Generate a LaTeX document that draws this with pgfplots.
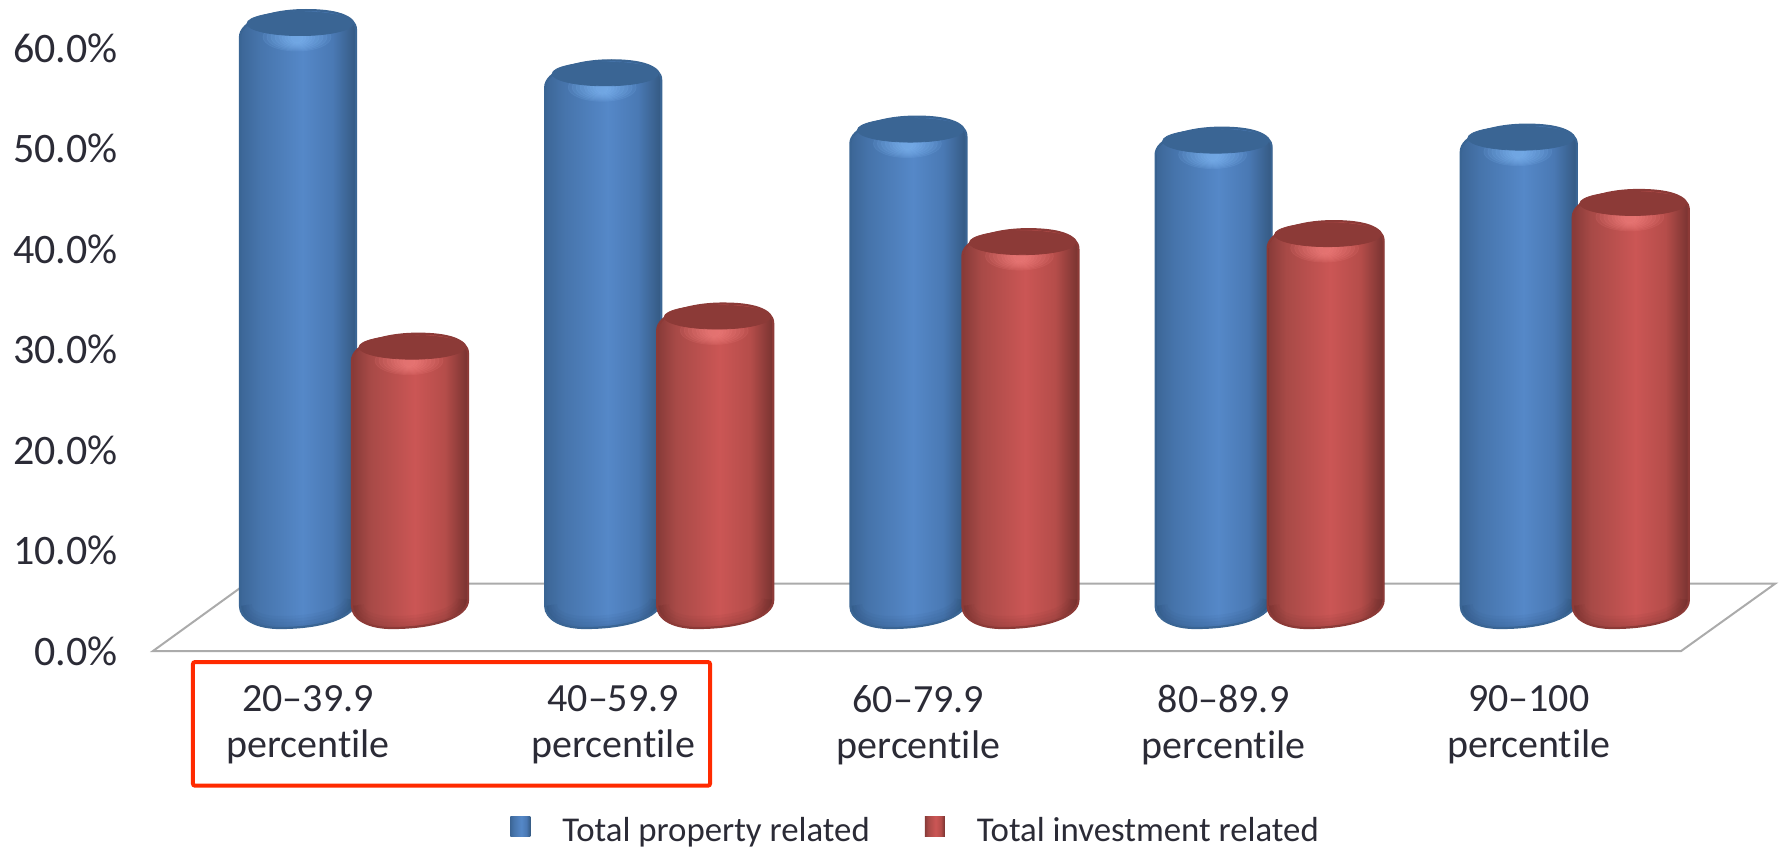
\documentclass[border=0pt]{standalone}
\usepackage{fontspec}
\setmainfont{Carlito}[Ligatures=NoCommon]
\usepackage{pgfplots}
\pgfplotsset{compat=1.18}

\definecolor{txt}{HTML}{2B2B36}
\definecolor{floorline}{HTML}{ABABAB}
\definecolor{capblue}{HTML}{3A6594}
\definecolor{capred}{HTML}{8C3A37}
\definecolor{glowblue}{HTML}{8CC4FF}
\definecolor{glowred}{HTML}{FF8E8C}
\definecolor{edgeblue}{HTML}{1F3F66}
\definecolor{edgered}{HTML}{5E2523}
\definecolor{boxred}{HTML}{FF2A00}

% Side shading of the cylinders: the visible width lies between 25bp and 75bp
\pgfdeclarehorizontalshading{bluecyl}{100bp}{
  rgb(0bp)=(0.235,0.400,0.590);
  rgb(25bp)=(0.235,0.400,0.590);
  rgb(33bp)=(0.275,0.455,0.671);
  rgb(52bp)=(0.333,0.533,0.784);
  rgb(65bp)=(0.290,0.475,0.706);
  rgb(75bp)=(0.205,0.350,0.510);
  rgb(100bp)=(0.205,0.350,0.510)}
\pgfdeclarehorizontalshading{redcyl}{100bp}{
  rgb(0bp)=(0.530,0.230,0.220);
  rgb(25bp)=(0.530,0.230,0.220);
  rgb(33bp)=(0.659,0.290,0.278);
  rgb(52bp)=(0.796,0.337,0.333);
  rgb(65bp)=(0.710,0.302,0.290);
  rgb(75bp)=(0.470,0.200,0.190);
  rgb(100bp)=(0.470,0.200,0.190)}

\pgfdeclareplotmark{nil}{}

% One cylinder, origin at the centre of its top;
% #1 side shading, #2 cap and outline, #3 glow, #4 edge
\newcommand{\cylinder}[4]{%
  \begin{scope}[x=0.5pt,y=0.5pt]
    \pgfmathsetmacro{\h}{\barval*10.05}
    \def\outline{(-58,-10) .. controls (-58,5) and (-30,17) .. (8,17)
      .. controls (36,17) and (58,12) .. (58,-3)
      -- (58,-\h+9) .. controls (58,-\h-8) and (25,-\h-19) .. (-18,-\h-19)
      .. controls (-42,-\h-19) and (-58,-\h-10) .. (-58,-\h+3) -- cycle}
    \shade[draw=none,shading=#1] \outline;
    \begin{scope}
      \clip \outline;
      % soft lower rim
      \foreach \lw in {6,12,18,24}
        \draw[#4,line width=\lw*0.5pt,opacity=0.05]
          (58,-\h+9) .. controls (58,-\h-8) and (25,-\h-19) .. (-18,-\h-19)
          .. controls (-42,-\h-19) and (-58,-\h-10) .. (-58,-\h+3);
      % highlight under the cap
      \foreach \rx/\ry in {34/14,30/13,26/12,22/11,18/10,15/9,12/8,9/7,6/6}
        \fill[#3,opacity=0.09] (-1,-10) ellipse [x radius=\rx,y radius=\ry];
    \end{scope}
    \draw[#2,line width=1.1pt] \outline;
    \fill[#2,rotate around={7:(2,3.5)}] (2,3.5) ellipse [x radius=53,y radius=12];
  \end{scope}}

\begin{document}
\begin{tikzpicture}
  \path[use as bounding box] (0pt,0pt) rectangle (891pt,423.5pt);
  \begin{axis}[
    at={(152.5pt,98pt)}, anchor=origin,
    x=152.6pt, y=5.025pt,
    xmin=-0.498, xmax=4.509, ymin=0, ymax=64,
    clip=false,
    axis line style={draw=none},
    major tick length=0pt,
    every tick/.style={draw=none},
    xtick={0,1,2,3,4},
    xticklabels={20–39.9\\percentile,40–59.9\\percentile,60–79.9\\percentile,80–89.9\\percentile,90–100\\percentile},
    x tick label style={font=\fontsize{20}{23}\selectfont,text=txt,align=center,anchor=north,inner sep=0pt,xshift=1.5pt,yshift=-17pt},
    ytick={0,10,20,30,40,50,60},
    yticklabels={0.0\%,10.0\%,20.0\%,30.0\%,40.0\%,50.0\%,60.0\%},
    y tick label style={font=\fontsize{21}{23}\selectfont,text=txt,anchor=east,inner sep=0pt,xshift=-17.5pt},
    legend columns=2,
    legend style={draw=none,fill=none,at={(axis cs:2.004,-17.9)},anchor=center,
      font=\fontsize{17.4}{20}\selectfont,text=txt,inner sep=0pt,
      /tikz/every even column/.append style={column sep=25.5pt}},
    cyl/.style={only marks,scatter,mark=nil,
      visualization depends on={rawy \as \barval}},
  ]
    % floor of the chart
    \addplot[forget plot,draw=floorline,line width=1pt,line join=miter] coordinates
      {(-0.193,6.7) (-0.498,0) (4.509,0) (4.817,6.7) (-0.193,6.7)};

    % the cylinders stand in the middle of the floor, behind its front edge
    \addplot[cyl,xshift=-3.5pt,yshift=21pt,
      scatter/@pre marker code/.code={\cylinder{bluecyl}{capblue}{glowblue}{edgeblue}\begingroup},
      scatter/@post marker code/.code={\endgroup},
      legend image code/.code={\shade[draw=none,shading=bluecyl] (3.5pt,-24pt) rectangle (13.5pt,-14pt);
        \path[draw=none] (3.5pt,-21pt) -- (27.5pt,-21pt);}]
      coordinates {(0,57.9) (1,52.9) (2,47.3) (3,46.2) (4,46.5)};
    \addlegendentry{Total property related}

    \addplot[cyl,xshift=52.5pt,yshift=21pt,
      scatter/@pre marker code/.code={\cylinder{redcyl}{capred}{glowred}{edgered}\begingroup},
      scatter/@post marker code/.code={\endgroup},
      legend image code/.code={\shade[draw=none,shading=redcyl] (-52.5pt,-24pt) rectangle (-42.5pt,-14pt);
        \path[draw=none] (-52.5pt,-21pt) -- (-28.5pt,-21pt);}]
      coordinates {(0,25.7) (1,28.7) (2,36.1) (3,36.9) (4,40.0)};
    \addlegendentry{Total investment related}

    % frame around the first two categories
    \draw[boxred,line width=2pt,rounded corners=1pt]
      (axis cs:-0.367,-1.1) rectangle (axis cs:1.327,-13.4);
  \end{axis}
\end{tikzpicture}
\end{document}
